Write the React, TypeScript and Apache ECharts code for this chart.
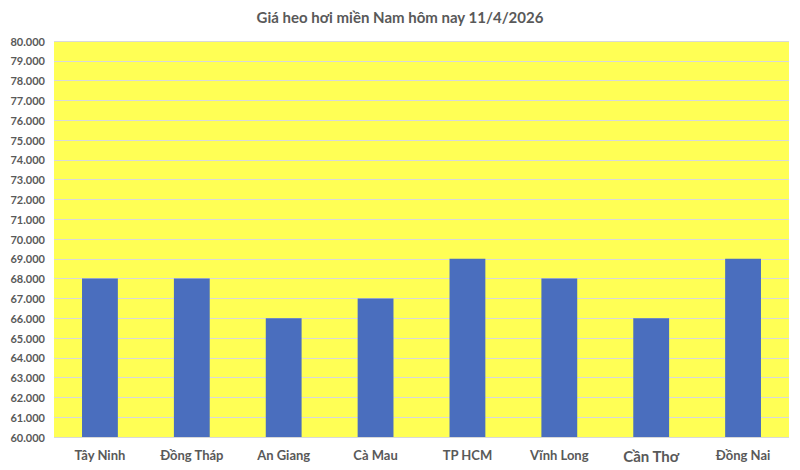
import React, { useEffect, useRef } from 'react';
import * as echarts from 'echarts';

const provinces = ['Tây Ninh', 'Đồng Tháp', 'An Giang', 'Cà Mau', 'TP HCM', 'Vĩnh Long', 'Cần Thơ', 'Đồng Nai'];
const prices = [68000, 68000, 66000, 67000, 69000, 68000, 66000, 69000];
const yMin = 60000;
const yMax = 80000;
const yStep = 1000;

const fmt = (v: number) => String(v).replace(/\B(?=(\d{3})+(?!\d))/g, '.');

const App: React.FC = () => {
    const chartRef = useRef<HTMLDivElement | null>(null);

    useEffect(() => {
        if (!chartRef.current) return;
        const chart = echarts.init(chartRef.current, null, { renderer: 'svg' });

        chart.setOption({
            animation: false,
            backgroundColor: '#ffffff',
            textStyle: { fontFamily: 'Lato' },
            title: {
                text: 'Giá heo hơi miền Nam hôm nay 11/4/2026',
                left: 'center',
                top: 4,
                textStyle: { fontSize: 15, fontWeight: 'bold', color: '#595959', fontFamily: 'Lato' },
            },
            graphic: [
                {
                    type: 'rect',
                    shape: { x: 0.5, y: 0.5, width: 796, height: 466 },
                    style: { fill: 'none', stroke: '#e3e3e3', lineWidth: 1 },
                    silent: true,
                },
            ],
            grid: {
                left: 54,
                right: 11,
                top: 41,
                bottom: 33,
                show: true,
                backgroundColor: '#ffff55',
                borderWidth: 0,
            },
            xAxis: {
                type: 'category',
                data: provinces,
                axisLine: { show: false },
                axisTick: { show: false },
                axisLabel: {
                    interval: 0,
                    margin: 11,
                    fontSize: 13,
                    fontWeight: 'bold',
                    color: '#595959',
                    formatter: (v: string) => (v === 'Cần Thơ' ? `{big|${v}}` : v),
                    rich: {
                        big: { fontSize: 15, fontWeight: 'bold', color: '#595959', fontFamily: 'Lato' },
                    },
                },
            },
            yAxis: {
                type: 'value',
                min: yMin,
                max: yMax,
                interval: yStep,
                axisLine: { show: false },
                axisTick: { show: false },
                splitLine: { lineStyle: { color: '#d9d9d9', width: 1 } },
                axisLabel: {
                    margin: 9,
                    fontSize: 11,
                    fontWeight: 'bold',
                    color: '#595959',
                    formatter: (v: number) => fmt(v),
                },
            },
            series: [
                {
                    type: 'bar',
                    data: prices,
                    barWidth: '39%',
                    itemStyle: { color: '#4a6ebe' },
                },
            ],
        });

        return () => {
            chart.dispose();
        };
    }, []);

    return <div ref={chartRef} style={{ width: '800px', height: '470px', margin: '-8px' }} />;
};

export default App;
